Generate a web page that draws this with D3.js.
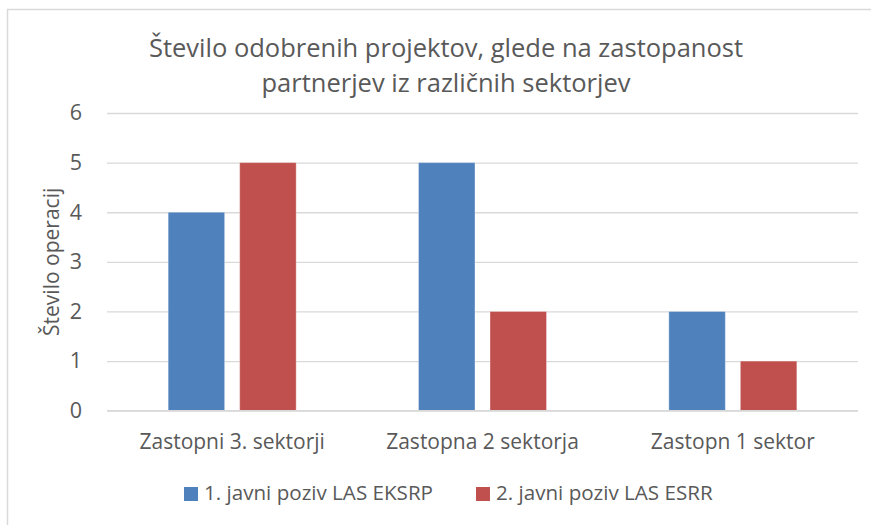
<!DOCTYPE html>
<html lang="sl">
<head>
    <meta charset="UTF-8">
    <title>Število odobrenih projektov</title>
    <script src="https://d3js.org/d3.v7.min.js"></script>
    <style>
        body { margin: 0; background: #fff; }
        text { font-family: "Open Sans", sans-serif; fill: #595959; }
    </style>
</head>
<body>
<script>
    const width = 875
    const height = 525

    // data
    const categories = ["Zastopni 3. sektorji", "Zastopna 2 sektorja", "Zastopn 1 sektor"]
    const seriesNames = ["1. javni poziv LAS EKSRP", "2. javni poziv LAS ESRR"]
    const eksrp = [4, 5, 2]
    const esrr = [5, 2, 1]
    const yTicks = [0, 1, 2, 3, 4, 5, 6]
    const colors = ["#4F81BD", "#C0504D"]

    const seriesValues = [eksrp, esrr]
    const rows = categories.map((c, i) => ({cat: c, vals: seriesValues.map((s, j) => ({name: seriesNames[j], v: s[i]}))}))

    const margin = {top: 113, right: 17, bottom: 114.3, left: 107}

    let svg = d3.select("body").append("svg")
        .attr("width", width)
        .attr("height", height)

    // chart area frame (only top and left edges visible)
    svg.append("path")
        .attr("d", `M7.5,${height} V9.5 H871`)
        .attr("fill", "none")
        .attr("stroke", "#D9D9D9")
        .attr("stroke-width", 1.5)

    const x = d3.scaleBand()
        .domain(categories)
        .range([margin.left, width - margin.right])

    const xSub = d3.scaleBand()
        .domain(seriesNames)
        .range([0, x.bandwidth()])
        .paddingInner(0.21)
        .paddingOuter(0.855)

    const y = d3.scaleLinear()
        .domain([0, 6])
        .range([height - margin.bottom, margin.top])

    // gridlines + tick labels
    let yAxis = svg.append("g")
        .attr("transform", `translate(${margin.left},0)`)
        .call(d3.axisLeft(y).tickValues(yTicks).tickFormat(d3.format("d"))
            .tickSize(-(width - margin.left - margin.right)).tickPadding(25))
    yAxis.select(".domain").remove()
    yAxis.selectAll(".tick line").attr("stroke", "#D9D9D9").attr("stroke-width", 1.3)
    yAxis.selectAll(".tick text")
        .style("font-size", "21.5px")
        .style("font-family", "'Open Sans', sans-serif")
        .attr("fill", "#595959")

    // bars
    let groups = svg.append("g").selectAll("g")
        .data(rows)
        .join("g")
        .attr("transform", d => `translate(${x(d.cat)},0)`)

    groups.selectAll("rect")
        .data(d => d.vals)
        .join("rect")
        .attr("x", d => xSub(d.name))
        .attr("width", xSub.bandwidth())
        .attr("y", d => y(d.v))
        .attr("height", d => y(0) - y(d.v))
        .attr("fill", (d, i) => colors[i])
        .attr("stroke", "#fff")
        .attr("stroke-opacity", 0.35)
        .attr("stroke-width", 1)

    // baseline
    svg.append("line")
        .attr("x1", margin.left).attr("x2", width - margin.right)
        .attr("y1", y(0)).attr("y2", y(0))
        .attr("stroke", "#D9D9D9")
        .attr("stroke-width", 1.5)

    // category labels
    let xAxis = svg.append("g")
        .attr("transform", `translate(0,${y(0)})`)
        .call(d3.axisBottom(x).tickSize(0).tickPadding(0))
    xAxis.select(".domain").remove()
    xAxis.selectAll(".tick text")
        .attr("dy", null)
        .attr("y", 38.5)
        .style("font-size", "21px")
        .style("font-family", "'Open Sans', sans-serif")
        .attr("fill", "#595959")

    // title
    const titleLines = ["Število odobrenih projektov, glede na zastopanost", "partnerjev iz različnih sektorjev"]
    svg.append("text")
        .attr("text-anchor", "middle")
        .style("font-size", "25.5px")
        .selectAll("tspan")
        .data(titleLines)
        .join("tspan")
        .attr("x", 446)
        .attr("y", (d, i) => 57.3 + i * 34.4)
        .text(d => d)

    // y axis title
    svg.append("text")
        .attr("transform", `translate(59,${(y(0) + y(6)) / 2}) rotate(-90)`)
        .attr("text-anchor", "middle")
        .style("font-size", "21px")
        .text("Število operacij")

    // legend
    let legend = svg.append("g").attr("transform", "translate(184,487)")
    let lx = 0
    seriesNames.forEach((name, i) => {
        let item = legend.append("g").attr("transform", `translate(${lx},0)`)
        item.append("rect").attr("width", 14).attr("height", 14).attr("fill", colors[i])
        let t = item.append("text").attr("x", 20).attr("y", 13).style("font-size", "20.6px").text(name)
        lx += 20 + t.node().getComputedTextLength() + 43
    })
</script>
</body>
</html>
